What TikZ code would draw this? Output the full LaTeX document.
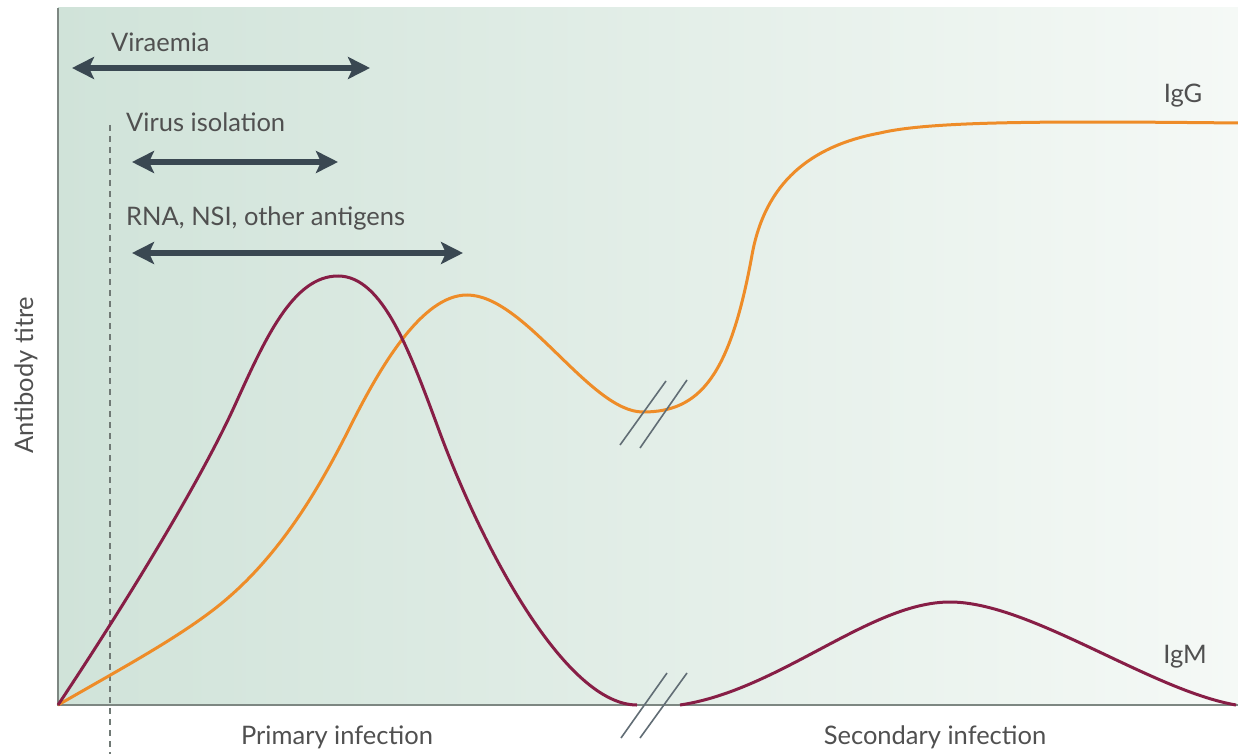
\documentclass[tikz,border=0pt]{standalone}
\usepackage{fontspec}
\setmainfont{Lato}
\usetikzlibrary{arrows.meta}
\definecolor{bgL}{RGB}{208,227,217}
\definecolor{bgR}{RGB}{245,249,246}
\definecolor{axisc}{RGB}{125,135,130}
\definecolor{arrc}{RGB}{58,72,82}
\definecolor{txtc}{RGB}{80,80,80}
\definecolor{igm}{RGB}{135,30,70}
\definecolor{igg}{RGB}{238,140,40}
\tikzset{
  lab/.style={text=txtc,font=\fontsize{25.5}{30}\selectfont,inner sep=0pt},
  rangearrow/.style={draw=arrc,line width=5.5pt,{Stealth[length=22pt,width=22pt,inset=5pt]}-{Stealth[length=22pt,width=22pt,inset=5pt]}},
  curveM/.style={draw=igm,line width=3pt},
  curveG/.style={draw=igg,line width=3pt},
  brk/.style={draw=arrc!80,line width=1.6pt},
}
\begin{document}
\begin{tikzpicture}[x=1pt,y=-1pt]
\useasboundingbox (0,0) rectangle (1238,754);
\fill[white] (0,0) rectangle (1238,754);
\shade[left color=bgL,right color=bgR] (58,8) rectangle (1238,705);
% axes
\draw[axisc,line width=1.8pt] (58,8) -- (58,705) -- (1238,705);
% dashed marker
\draw[axisc!90!black,line width=1.2pt,dash pattern=on 6pt off 5pt] (110,125) -- (110,754);
% range arrows
\coordinate (va) at (72,68); \coordinate (vb) at (370,68);
\coordinate (ia) at (132,162); \coordinate (ib) at (338,162);
\coordinate (ra) at (132,253); \coordinate (rb) at (463,253);
\draw[rangearrow] (va) -- (vb);
\draw[rangearrow] (ia) -- (ib);
\draw[rangearrow] (ra) -- (rb);
\node[lab,anchor=base west] (tv) at (111,52) {Viraemia};
\node[lab,anchor=base west] (ti) at (126,132) {Virus isolation};
\node[lab,anchor=base west] (tr) at (126,225) {RNA, NSI, other antigens};
% IgG curve
\draw[curveG] (58,705) .. controls (115,672) and (175,640) .. (217,607)
  .. controls (275,561) and (315,497) .. (350,427)
  .. controls (380,367) and (422,295) .. (467,295)
  .. controls (525,295) and (590,412) .. (643,412)
  .. controls (700,412) and (730,376) .. (752,255)
  .. controls (765,183) and (810,146) .. (880,133)
  .. controls (930,121) and (1050,121) .. (1238,123);
% IgM curves
\draw[curveM] (58,705) .. controls (108,630) and (195,493) .. (235,405)
  .. controls (265,339) and (293,276) .. (338,276)
  .. controls (383,276) and (410,352) .. (440,433)
  .. controls (485,554) and (567,705) .. (637,705);
\draw[curveM] (680,705) .. controls (780,690) and (870,602) .. (950,602)
  .. controls (1030,602) and (1150,690) .. (1236,705);
% breaks
\draw[brk] (620,445) -- (666,381);
\draw[brk] (640,448) -- (687,380);
\draw[brk] (621,738) -- (667,673);
\draw[brk] (640,738) -- (687,673);
% labels
\node[lab,anchor=base] (tg) at (1183,103) {IgG};
\node[lab,anchor=base] (tm) at (1185,663) {IgM};
\node[lab,anchor=base] (tp) at (337,744) {Primary infection};
\node[lab,anchor=base] (ts) at (935,744) {Secondary infection};
\node[lab,rotate=90,anchor=base] (ty) at (33,375) {Antibody titre};
\end{tikzpicture}
\end{document}
